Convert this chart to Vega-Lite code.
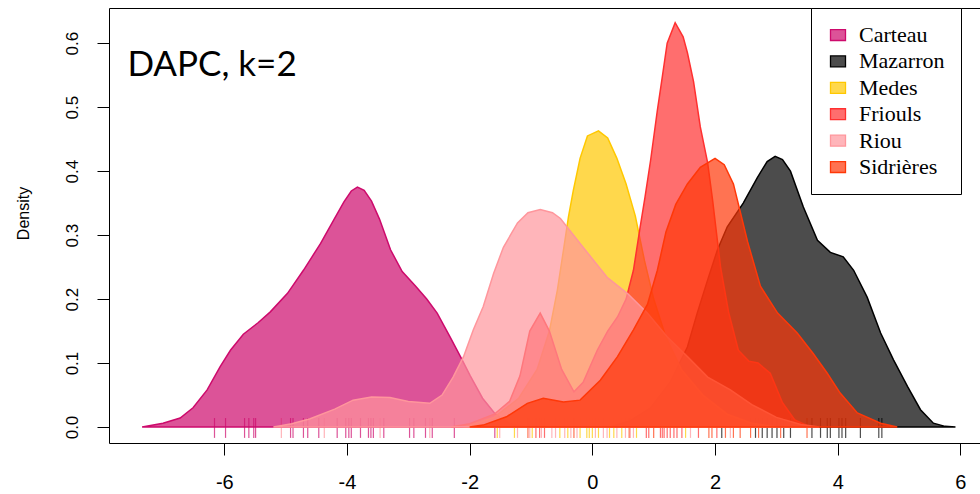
{
  "$schema": "https://vega.github.io/schema/vega-lite/v6.json",
  "width": 871,
  "height": 435,
  "autosize": "none",
  "padding": {"left": 109, "top": 8, "right": 0, "bottom": 51},
  "background": "white",
  "config": {
    "view": {"stroke": "black", "strokeWidth": 1},
    "axis": {"grid": false, "domain": false, "tickColor": "black", "tickWidth": 1, "tickSize": 12, "labelColor": "black", "labelFont": "Liberation Sans", "titleFont": "Liberation Sans", "titleColor": "black", "titleFontWeight": "normal"}
  },
  "datasets": {
    "dens": [
      {"group": "Carteau", "x": -7.34, "y": 0}, {"group": "Carteau", "x": -7.0, "y": 0.006}, {"group": "Carteau", "x": -6.72, "y": 0.014}, {"group": "Carteau", "x": -6.51, "y": 0.03}, {"group": "Carteau", "x": -6.28, "y": 0.058}, {"group": "Carteau", "x": -6.07, "y": 0.094}, {"group": "Carteau", "x": -5.9, "y": 0.12}, {"group": "Carteau", "x": -5.69, "y": 0.145}, {"group": "Carteau", "x": -5.45, "y": 0.163}, {"group": "Carteau", "x": -5.25, "y": 0.18}, {"group": "Carteau", "x": -4.97, "y": 0.209}, {"group": "Carteau", "x": -4.71, "y": 0.245}, {"group": "Carteau", "x": -4.43, "y": 0.287}, {"group": "Carteau", "x": -4.22, "y": 0.323}, {"group": "Carteau", "x": -4.05, "y": 0.352}, {"group": "Carteau", "x": -3.93, "y": 0.369}, {"group": "Carteau", "x": -3.83, "y": 0.375}, {"group": "Carteau", "x": -3.72, "y": 0.37}, {"group": "Carteau", "x": -3.6, "y": 0.353}, {"group": "Carteau", "x": -3.47, "y": 0.325}, {"group": "Carteau", "x": -3.29, "y": 0.277}, {"group": "Carteau", "x": -3.1, "y": 0.243}, {"group": "Carteau", "x": -2.88, "y": 0.22}, {"group": "Carteau", "x": -2.7, "y": 0.2}, {"group": "Carteau", "x": -2.53, "y": 0.178}, {"group": "Carteau", "x": -2.32, "y": 0.141}, {"group": "Carteau", "x": -2.15, "y": 0.11}, {"group": "Carteau", "x": -1.99, "y": 0.08}, {"group": "Carteau", "x": -1.79, "y": 0.045}, {"group": "Carteau", "x": -1.58, "y": 0.02}, {"group": "Carteau", "x": -1.34, "y": 0.005}, {"group": "Carteau", "x": -1.09, "y": 0},
      {"group": "Mazarron", "x": 0.29, "y": 0}, {"group": "Mazarron", "x": 0.62, "y": 0.01}, {"group": "Mazarron", "x": 0.95, "y": 0.03}, {"group": "Mazarron", "x": 1.27, "y": 0.07}, {"group": "Mazarron", "x": 1.55, "y": 0.125}, {"group": "Mazarron", "x": 1.71, "y": 0.178}, {"group": "Mazarron", "x": 1.88, "y": 0.23}, {"group": "Mazarron", "x": 2.04, "y": 0.277}, {"group": "Mazarron", "x": 2.2, "y": 0.313}, {"group": "Mazarron", "x": 2.46, "y": 0.35}, {"group": "Mazarron", "x": 2.69, "y": 0.39}, {"group": "Mazarron", "x": 2.85, "y": 0.415}, {"group": "Mazarron", "x": 2.98, "y": 0.423}, {"group": "Mazarron", "x": 3.1, "y": 0.418}, {"group": "Mazarron", "x": 3.23, "y": 0.4}, {"group": "Mazarron", "x": 3.44, "y": 0.344}, {"group": "Mazarron", "x": 3.67, "y": 0.292}, {"group": "Mazarron", "x": 3.88, "y": 0.273}, {"group": "Mazarron", "x": 4.09, "y": 0.266}, {"group": "Mazarron", "x": 4.26, "y": 0.245}, {"group": "Mazarron", "x": 4.48, "y": 0.203}, {"group": "Mazarron", "x": 4.7, "y": 0.147}, {"group": "Mazarron", "x": 4.91, "y": 0.105}, {"group": "Mazarron", "x": 5.14, "y": 0.063}, {"group": "Mazarron", "x": 5.35, "y": 0.027}, {"group": "Mazarron", "x": 5.56, "y": 0.006}, {"group": "Mazarron", "x": 5.75, "y": 0.001}, {"group": "Mazarron", "x": 5.92, "y": 0},
      {"group": "Medes", "x": -2.1, "y": 0}, {"group": "Medes", "x": -1.6, "y": 0.015}, {"group": "Medes", "x": -1.2, "y": 0.045}, {"group": "Medes", "x": -0.9, "y": 0.09}, {"group": "Medes", "x": -0.7, "y": 0.15}, {"group": "Medes", "x": -0.57, "y": 0.214}, {"group": "Medes", "x": -0.47, "y": 0.277}, {"group": "Medes", "x": -0.39, "y": 0.328}, {"group": "Medes", "x": -0.31, "y": 0.37}, {"group": "Medes", "x": -0.2, "y": 0.42}, {"group": "Medes", "x": -0.08, "y": 0.455}, {"group": "Medes", "x": 0.1, "y": 0.463}, {"group": "Medes", "x": 0.25, "y": 0.452}, {"group": "Medes", "x": 0.4, "y": 0.42}, {"group": "Medes", "x": 0.55, "y": 0.38}, {"group": "Medes", "x": 0.7, "y": 0.33}, {"group": "Medes", "x": 0.85, "y": 0.26}, {"group": "Medes", "x": 1.0, "y": 0.2}, {"group": "Medes", "x": 1.2, "y": 0.14}, {"group": "Medes", "x": 1.45, "y": 0.09}, {"group": "Medes", "x": 1.8, "y": 0.05}, {"group": "Medes", "x": 2.2, "y": 0.02}, {"group": "Medes", "x": 2.6, "y": 0.006}, {"group": "Medes", "x": 3.0, "y": 0},
      {"group": "Friouls", "x": -2.3, "y": 0}, {"group": "Friouls", "x": -2.0, "y": 0.005}, {"group": "Friouls", "x": -1.6, "y": 0.02}, {"group": "Friouls", "x": -1.35, "y": 0.04}, {"group": "Friouls", "x": -1.18, "y": 0.08}, {"group": "Friouls", "x": -1.02, "y": 0.15}, {"group": "Friouls", "x": -0.85, "y": 0.178}, {"group": "Friouls", "x": -0.7, "y": 0.15}, {"group": "Friouls", "x": -0.5, "y": 0.09}, {"group": "Friouls", "x": -0.3, "y": 0.055}, {"group": "Friouls", "x": -0.15, "y": 0.07}, {"group": "Friouls", "x": 0.08, "y": 0.12}, {"group": "Friouls", "x": 0.25, "y": 0.15}, {"group": "Friouls", "x": 0.41, "y": 0.172}, {"group": "Friouls", "x": 0.55, "y": 0.2}, {"group": "Friouls", "x": 0.67, "y": 0.245}, {"group": "Friouls", "x": 0.78, "y": 0.313}, {"group": "Friouls", "x": 0.86, "y": 0.36}, {"group": "Friouls", "x": 0.95, "y": 0.417}, {"group": "Friouls", "x": 1.06, "y": 0.495}, {"group": "Friouls", "x": 1.14, "y": 0.547}, {"group": "Friouls", "x": 1.22, "y": 0.6}, {"group": "Friouls", "x": 1.35, "y": 0.632}, {"group": "Friouls", "x": 1.48, "y": 0.61}, {"group": "Friouls", "x": 1.55, "y": 0.585}, {"group": "Friouls", "x": 1.65, "y": 0.54}, {"group": "Friouls", "x": 1.76, "y": 0.469}, {"group": "Friouls", "x": 1.88, "y": 0.413}, {"group": "Friouls", "x": 1.96, "y": 0.355}, {"group": "Friouls", "x": 2.09, "y": 0.25}, {"group": "Friouls", "x": 2.22, "y": 0.18}, {"group": "Friouls", "x": 2.38, "y": 0.12}, {"group": "Friouls", "x": 2.55, "y": 0.103}, {"group": "Friouls", "x": 2.7, "y": 0.1}, {"group": "Friouls", "x": 2.9, "y": 0.084}, {"group": "Friouls", "x": 3.1, "y": 0.038}, {"group": "Friouls", "x": 3.3, "y": 0.011}, {"group": "Friouls", "x": 3.55, "y": 0},
      {"group": "Riou", "x": -5.2, "y": 0}, {"group": "Riou", "x": -4.9, "y": 0.005}, {"group": "Riou", "x": -4.6, "y": 0.013}, {"group": "Riou", "x": -4.2, "y": 0.028}, {"group": "Riou", "x": -3.9, "y": 0.042}, {"group": "Riou", "x": -3.6, "y": 0.047}, {"group": "Riou", "x": -3.3, "y": 0.046}, {"group": "Riou", "x": -3.0, "y": 0.04}, {"group": "Riou", "x": -2.65, "y": 0.037}, {"group": "Riou", "x": -2.45, "y": 0.05}, {"group": "Riou", "x": -2.27, "y": 0.078}, {"group": "Riou", "x": -2.1, "y": 0.11}, {"group": "Riou", "x": -1.94, "y": 0.152}, {"group": "Riou", "x": -1.78, "y": 0.188}, {"group": "Riou", "x": -1.61, "y": 0.24}, {"group": "Riou", "x": -1.45, "y": 0.281}, {"group": "Riou", "x": -1.22, "y": 0.319}, {"group": "Riou", "x": -1.05, "y": 0.335}, {"group": "Riou", "x": -0.85, "y": 0.34}, {"group": "Riou", "x": -0.65, "y": 0.335}, {"group": "Riou", "x": -0.52, "y": 0.326}, {"group": "Riou", "x": -0.2, "y": 0.287}, {"group": "Riou", "x": 0.24, "y": 0.234}, {"group": "Riou", "x": 0.57, "y": 0.209}, {"group": "Riou", "x": 0.9, "y": 0.178}, {"group": "Riou", "x": 1.22, "y": 0.141}, {"group": "Riou", "x": 1.55, "y": 0.11}, {"group": "Riou", "x": 1.88, "y": 0.078}, {"group": "Riou", "x": 2.25, "y": 0.058}, {"group": "Riou", "x": 2.6, "y": 0.035}, {"group": "Riou", "x": 3.0, "y": 0.015}, {"group": "Riou", "x": 3.4, "y": 0.004}, {"group": "Riou", "x": 3.7, "y": 0},
      {"group": "Sidrières", "x": -2.0, "y": 0}, {"group": "Sidrières", "x": -1.78, "y": 0.003}, {"group": "Sidrières", "x": -1.4, "y": 0.016}, {"group": "Sidrières", "x": -1.06, "y": 0.037}, {"group": "Sidrières", "x": -0.8, "y": 0.045}, {"group": "Sidrières", "x": -0.47, "y": 0.039}, {"group": "Sidrières", "x": -0.2, "y": 0.042}, {"group": "Sidrières", "x": 0.13, "y": 0.073}, {"group": "Sidrières", "x": 0.41, "y": 0.11}, {"group": "Sidrières", "x": 0.67, "y": 0.152}, {"group": "Sidrières", "x": 0.9, "y": 0.192}, {"group": "Sidrières", "x": 1.06, "y": 0.245}, {"group": "Sidrières", "x": 1.2, "y": 0.305}, {"group": "Sidrières", "x": 1.36, "y": 0.348}, {"group": "Sidrières", "x": 1.55, "y": 0.38}, {"group": "Sidrières", "x": 1.76, "y": 0.406}, {"group": "Sidrières", "x": 2.0, "y": 0.42}, {"group": "Sidrières", "x": 2.15, "y": 0.41}, {"group": "Sidrières", "x": 2.3, "y": 0.38}, {"group": "Sidrières", "x": 2.53, "y": 0.29}, {"group": "Sidrières", "x": 2.74, "y": 0.22}, {"group": "Sidrières", "x": 3.02, "y": 0.178}, {"group": "Sidrières", "x": 3.34, "y": 0.147}, {"group": "Sidrières", "x": 3.6, "y": 0.115}, {"group": "Sidrières", "x": 3.83, "y": 0.084}, {"group": "Sidrières", "x": 4.04, "y": 0.053}, {"group": "Sidrières", "x": 4.32, "y": 0.022}, {"group": "Sidrières", "x": 4.7, "y": 0.006}, {"group": "Sidrières", "x": 4.97, "y": 0}
    ],
    "rug": [
      {"group": "Carteau", "x": -6.16}, {"group": "Carteau", "x": -5.98}, {"group": "Carteau", "x": -5.67}, {"group": "Carteau", "x": -5.6}, {"group": "Carteau", "x": -5.52}, {"group": "Carteau", "x": -5.49}, {"group": "Carteau", "x": -4.92}, {"group": "Carteau", "x": -4.88}, {"group": "Carteau", "x": -4.71}, {"group": "Carteau", "x": -4.64}, {"group": "Carteau", "x": -4.46}, {"group": "Carteau", "x": -4.16}, {"group": "Carteau", "x": -4.02}, {"group": "Carteau", "x": -3.97}, {"group": "Carteau", "x": -3.93}, {"group": "Carteau", "x": -3.78}, {"group": "Carteau", "x": -3.65}, {"group": "Carteau", "x": -3.61}, {"group": "Carteau", "x": -3.57}, {"group": "Carteau", "x": -3.4}, {"group": "Carteau", "x": -2.98}, {"group": "Carteau", "x": -2.91}, {"group": "Carteau", "x": -2.72}, {"group": "Carteau", "x": -2.61}, {"group": "Carteau", "x": -2.25}, {"group": "Carteau", "x": -1.59},
      {"group": "Mazarron", "x": 2.11}, {"group": "Mazarron", "x": 2.66}, {"group": "Mazarron", "x": 2.77}, {"group": "Mazarron", "x": 2.85}, {"group": "Mazarron", "x": 2.93}, {"group": "Mazarron", "x": 3.01}, {"group": "Mazarron", "x": 3.12}, {"group": "Mazarron", "x": 3.23}, {"group": "Mazarron", "x": 3.58}, {"group": "Mazarron", "x": 3.72}, {"group": "Mazarron", "x": 3.83}, {"group": "Mazarron", "x": 3.88}, {"group": "Mazarron", "x": 4.02}, {"group": "Mazarron", "x": 4.07}, {"group": "Mazarron", "x": 4.13}, {"group": "Mazarron", "x": 4.37}, {"group": "Mazarron", "x": 4.67}, {"group": "Mazarron", "x": 4.72},
      {"group": "Medes", "x": -1.55}, {"group": "Medes", "x": -1.27}, {"group": "Medes", "x": -0.98}, {"group": "Medes", "x": -0.53}, {"group": "Medes", "x": -0.4}, {"group": "Medes", "x": -0.2}, {"group": "Medes", "x": -0.09}, {"group": "Medes", "x": -0.05}, {"group": "Medes", "x": 0.0}, {"group": "Medes", "x": 0.1}, {"group": "Medes", "x": 0.28}, {"group": "Medes", "x": 0.35}, {"group": "Medes", "x": 0.48}, {"group": "Medes", "x": 0.72}, {"group": "Medes", "x": 1.52},
      {"group": "Friouls", "x": -0.92}, {"group": "Friouls", "x": -0.86}, {"group": "Friouls", "x": -0.78}, {"group": "Friouls", "x": 0.88}, {"group": "Friouls", "x": 0.92}, {"group": "Friouls", "x": 1.11}, {"group": "Friouls", "x": 1.14}, {"group": "Friouls", "x": 1.17}, {"group": "Friouls", "x": 1.22}, {"group": "Friouls", "x": 1.27}, {"group": "Friouls", "x": 1.33}, {"group": "Friouls", "x": 1.38}, {"group": "Friouls", "x": 1.46}, {"group": "Friouls", "x": 1.73}, {"group": "Friouls", "x": 2.03},
      {"group": "Riou", "x": -5.07}, {"group": "Riou", "x": -4.37}, {"group": "Riou", "x": -3.46}, {"group": "Riou", "x": -2.65}, {"group": "Riou", "x": -1.51}, {"group": "Riou", "x": -1.22}, {"group": "Riou", "x": -1.02}, {"group": "Riou", "x": -0.83}, {"group": "Riou", "x": -0.66}, {"group": "Riou", "x": -0.6}, {"group": "Riou", "x": -0.45}, {"group": "Riou", "x": -0.35}, {"group": "Riou", "x": -0.25}, {"group": "Riou", "x": 0.05}, {"group": "Riou", "x": 0.18}, {"group": "Riou", "x": 0.24}, {"group": "Riou", "x": 0.4}, {"group": "Riou", "x": 0.54}, {"group": "Riou", "x": 0.62}, {"group": "Riou", "x": 0.67}, {"group": "Riou", "x": 1.6}, {"group": "Riou", "x": 2.25},
      {"group": "Sidrières", "x": -1.05}, {"group": "Sidrières", "x": -0.3}, {"group": "Sidrières", "x": 0.6}, {"group": "Sidrières", "x": 1.0}, {"group": "Sidrières", "x": 1.9}, {"group": "Sidrières", "x": 1.95}, {"group": "Sidrières", "x": 2.17}, {"group": "Sidrières", "x": 2.3}, {"group": "Sidrières", "x": 2.41}, {"group": "Sidrières", "x": 2.58}, {"group": "Sidrières", "x": 2.71}, {"group": "Sidrières", "x": 3.07}, {"group": "Sidrières", "x": 3.5}
    ]
  },
  "layer": [
    {
      "data": {"name": "rug"},
      "mark": {"type": "rule", "strokeWidth": 1.2, "opacity": 0.7},
      "encoding": {
        "x": {"field": "x", "type": "quantitative", "scale": {"domain": [-7.88, 6.32], "nice": false, "zero": false},
              "axis": {"values": [-6, -4, -2, 0, 2, 4, 6], "title": null, "labelFontSize": 20, "labelPadding": 17, "labelFlush": false, "labelOverlap": false,
                       "labelExpr": "datum.value < 0 ? '-' + abs(datum.value) : '' + datum.value"}},
        "y": {"datum": -0.017, "type": "quantitative", "scale": {"domain": [-0.025, 0.655], "nice": false, "zero": false},
              "axis": {"values": [0, 0.1, 0.2, 0.3, 0.4, 0.5, 0.6], "format": ".1f", "title": "Density", "labelFontSize": 17, "labelAngle": 270, "labelAlign": "center", "labelBaseline": "bottom", "labelPadding": 16, "labelFlush": false, "labelOverlap": false, "titleFontSize": 16, "titleAngle": 270, "titleAlign": "center", "titleBaseline": "middle", "titleX": -86, "titleY": 205}},
        "y2": {"datum": 0.014},
        "color": {"field": "group", "type": "nominal",
                  "scale": {"domain": ["Carteau", "Mazarron", "Medes", "Friouls", "Riou", "Sidrières"], "range": ["#CD0A6C", "#000000", "#FFC800", "#FF3030", "#FF969C", "#FF3808"]}}
      }
    },
    {
      "data": {"name": "dens"},
      "transform": [{"filter": "datum.group === 'Carteau'"}],
      "mark": {"type": "area", "fillOpacity": 0.7, "stroke": "#CD0A6C", "strokeWidth": 1.5},
      "encoding": {"x": {"field": "x", "type": "quantitative"}, "y": {"field": "y", "type": "quantitative"},
        "color": {"field": "group", "type": "nominal",
                  "legend": {"orient": "none", "legendX": 702, "legendY": 0, "title": null, "padding": 16, "strokeColor": "black", "fillColor": "white", "cornerRadius": 0,
                             "symbolType": "M-1,-0.73H1V0.73H-1Z", "symbolSize": 225, "symbolStrokeColor": "black", "symbolStrokeWidth": 1.3,
                             "labelFont": "Liberation Serif", "labelFontSize": 22, "labelColor": "black", "labelOffset": 10, "rowPadding": 4.4, "labelLimit": 400,
                             "labelExpr": "datum.label + '                '",
                             "encode": {"symbols": {"update": {"fillOpacity": {"value": 0.7}, "stroke": {"value": "black"}, "strokeWidth": {"value": 1.3}, "opacity": {"value": 1}}}}}}}
    },
    {
      "data": {"name": "dens"},
      "transform": [{"filter": "datum.group === 'Mazarron'"}],
      "mark": {"type": "area", "fillOpacity": 0.7, "stroke": "#000000", "strokeWidth": 1.5},
      "encoding": {"x": {"field": "x", "type": "quantitative"}, "y": {"field": "y", "type": "quantitative"}, "color": {"field": "group", "type": "nominal"}}
    },
    {
      "data": {"name": "dens"},
      "transform": [{"filter": "datum.group === 'Medes'"}],
      "mark": {"type": "area", "fillOpacity": 0.7, "stroke": "#FFC800", "strokeWidth": 1.5},
      "encoding": {"x": {"field": "x", "type": "quantitative"}, "y": {"field": "y", "type": "quantitative"}, "color": {"field": "group", "type": "nominal"}}
    },
    {
      "data": {"name": "dens"},
      "transform": [{"filter": "datum.group === 'Friouls'"}],
      "mark": {"type": "area", "fillOpacity": 0.7, "stroke": "#FF3030", "strokeWidth": 1.5},
      "encoding": {"x": {"field": "x", "type": "quantitative"}, "y": {"field": "y", "type": "quantitative"}, "color": {"field": "group", "type": "nominal"}}
    },
    {
      "data": {"name": "dens"},
      "transform": [{"filter": "datum.group === 'Riou'"}],
      "mark": {"type": "area", "fillOpacity": 0.7, "stroke": "#FF969C", "strokeWidth": 1.5},
      "encoding": {"x": {"field": "x", "type": "quantitative"}, "y": {"field": "y", "type": "quantitative"}, "color": {"field": "group", "type": "nominal"}}
    },
    {
      "data": {"name": "dens"},
      "transform": [{"filter": "datum.group === 'Sidrières'"}],
      "mark": {"type": "area", "fillOpacity": 0.7, "stroke": "#FF3808", "strokeWidth": 1.5},
      "encoding": {"x": {"field": "x", "type": "quantitative"}, "y": {"field": "y", "type": "quantitative"}, "color": {"field": "group", "type": "nominal"}}
    },
    {
      "data": {"values": [{"label": "DAPC, k=2"}]},
      "mark": {"type": "text", "font": "Lato", "fontSize": 35, "fill": "black", "align": "left", "baseline": "alphabetic"},
      "encoding": {"text": {"field": "label", "type": "nominal"}, "x": {"datum": -7.58, "type": "quantitative"}, "y": {"datum": 0.549, "type": "quantitative"}}
    }
  ]
}
